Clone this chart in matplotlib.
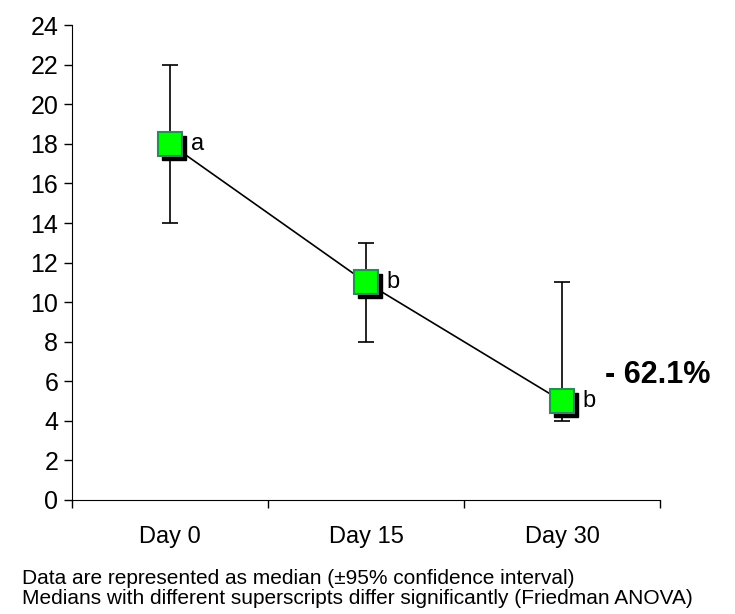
import matplotlib
matplotlib.use("Agg")
import matplotlib.pyplot as plt
import matplotlib.transforms as mtransforms

# data
days = ["Day 0", "Day 15", "Day 30"]
median = [18, 11, 5]
ci_low = [14, 8, 4]
ci_high = [22, 13, 11]
letters = ["a", "b", "b"]
change_label = "- 62.1%"
notes = ["Data are represented as median (\u00b195% confidence interval)",
         "Medians with different superscripts differ significantly (Friedman ANOVA)"]

plt.rcParams['font.family'] = ['Liberation Sans', 'DejaVu Sans']

fig = plt.figure(figsize=(7.35, 6.14), dpi=100)
ax = fig.add_axes([0.098, 0.1857, 0.8, 0.7733])

x = [i + 0.5 for i in range(len(days))]
yerr = [[m - lo for m, lo in zip(median, ci_low)],
        [hi - m for m, hi in zip(median, ci_high)]]

ax.errorbar(x, median, yerr=yerr, fmt='none', ecolor='black', elinewidth=1.2,
            capsize=5.5, capthick=1.2, zorder=1)
ax.plot(x, median, color='black', lw=1.2, zorder=2)

# shadow of the markers
shadow = mtransforms.offset_copy(ax.transData, fig=fig, x=4, y=-4, units='dots')
ax.plot(x, median, 's', ms=17, color='black', transform=shadow, zorder=3)
ax.plot(x, median, 's', ms=17, mfc='#00ff00', mec='#2e8b57', mew=1.5, zorder=4)

for xi, yi, lab in zip(x, median, letters):
    ax.annotate(lab, (xi, yi), xytext=(15, 0), textcoords='offset points',
                va='center', ha='left', fontsize=17)

ax.text(2.72, 6.3, change_label, fontsize=22, fontweight='bold', ha='left', va='center')

ax.set_xlim(0, 3)
ax.set_ylim(0, 24)
ax.set_yticks(range(0, 25, 2))
ax.set_xticks([0, 1, 2, 3])
ax.set_xticklabels([])
ax.set_xticks(x, minor=True)
ax.set_xticklabels(days, minor=True)
ax.tick_params(axis='x', which='minor', length=0, pad=19, labelsize=17)
ax.tick_params(axis='x', which='major', length=6, width=1)
ax.tick_params(axis='y', length=6, width=1, labelsize=18, pad=4)
for s in ['top', 'right']:
    ax.spines[s].set_visible(False)

fig.text(22 / 735, 1 - 578 / 614, notes[0], fontsize=15, va='center', ha='left')
fig.text(22 / 735, 1 - 599 / 614, notes[1], fontsize=15, va='center', ha='left')

fig.savefig("out.png", dpi=100)
